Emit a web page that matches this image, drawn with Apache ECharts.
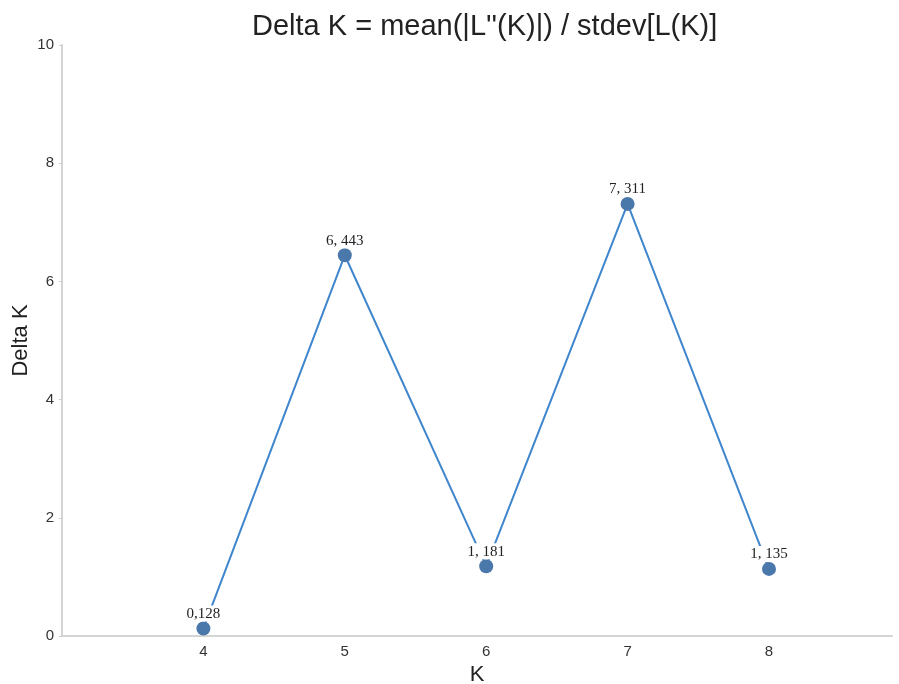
<!DOCTYPE html>
<html>
<head>
<meta charset="utf-8">
<script src="https://cdn.jsdelivr.net/npm/echarts@6/dist/echarts.min.js"></script>
<style>
  html, body { margin: 0; padding: 0; background: #fff; }
  #main { width: 899px; height: 684px; }
</style>
</head>
<body>
<div id="main"></div>
<script>
// K values and Delta K
const kValues = [4, 5, 6, 7, 8]
const deltaK = [0.128, 6.443, 1.181, 7.311, 1.135]
const pointLabels = ['0,128', '6, 443', '1, 181', '7, 311', '1, 135']
const yTicks = [0, 2, 4, 6, 8, 10]

const chart = echarts.init(document.getElementById('main'))

const points = []
for (let i = 0; i < kValues.length; i++) {
    points.push([kValues[i], deltaK[i]])
}

const option = {
    animation: false,
    backgroundColor: '#fff',
    title: {
        text: "Delta K = mean(|L''(K)|) / stdev[L(K)]",
        left: 247,
        top: 7,
        textStyle: {
            fontFamily: 'Liberation Sans, Arial, sans-serif',
            fontSize: 29,
            fontWeight: 'normal',
            color: '#222'
        }
    },
    grid: {
        left: 62,
        right: 7,
        top: 45,
        bottom: 48,
        outerBoundsMode: 'none'
    },
    xAxis: {
        type: 'value',
        min: 3,
        max: 8.87,
        interval: 1,
        name: 'K',
        nameLocation: 'middle',
        nameGap: 28,
        nameTextStyle: {
            fontFamily: 'Liberation Sans, Arial, sans-serif',
            fontSize: 22,
            color: '#222'
        },
        axisLine: { lineStyle: { color: '#d4d4d4', width: 2 } },
        axisTick: { show: false },
        splitLine: { show: false },
        axisLabel: {
            margin: 8,
            fontFamily: 'Liberation Sans, Arial, sans-serif',
            fontSize: 15,
            color: '#333',
            showMaxLabel: false,
            formatter: function (v) {
                return kValues.indexOf(v) === -1 ? '' : String(v)
            }
        }
    },
    yAxis: {
        type: 'value',
        min: yTicks[0],
        max: yTicks[yTicks.length - 1],
        interval: 2,
        name: 'Delta K',
        nameLocation: 'middle',
        nameGap: 30,
        nameMoveOverlap: false,
        nameTextStyle: {
            fontFamily: 'Liberation Sans, Arial, sans-serif',
            fontSize: 22,
            color: '#222'
        },
        axisLine: { show: true, lineStyle: { color: '#d4d4d4', width: 2 } },
        axisTick: { show: true, length: 3, lineStyle: { color: '#ccc' } },
        splitLine: { show: false },
        axisLabel: {
            margin: 8,
            fontFamily: 'Liberation Sans, Arial, sans-serif',
            fontSize: 15,
            color: '#333'
        }
    },
    series: [{
        type: 'line',
        data: points,
        symbol: 'circle',
        symbolSize: 14,
        itemStyle: { color: '#4a78ab' },
        lineStyle: { color: '#3f86cc', width: 2 },
        label: {
            show: true,
            position: 'top',
            distance: 0,
            fontFamily: 'Liberation Serif, Times New Roman, serif',
            fontSize: 15,
            color: '#222',
            backgroundColor: '#fff',
            padding: [1, 1, 0, 1],
            formatter: function (p) {
                return pointLabels[p.dataIndex]
            }
        }
    }]
}

chart.setOption(option)
</script>
</body>
</html>
